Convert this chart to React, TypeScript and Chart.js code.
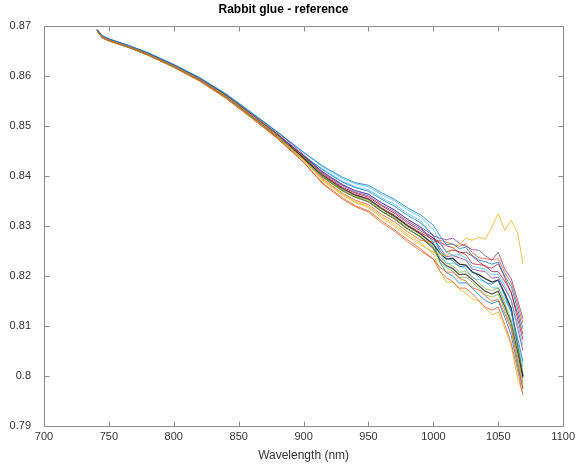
import { useEffect, useRef } from "react";
import { Chart, registerables } from "chart.js";

Chart.register(...registerables);

// Sampling wavelengths (nm)
const wavelength = [741, 745, 750, 765, 780, 800, 820, 840, 860, 880, 900, 915, 930, 940, 950, 960, 970, 980, 990, 1000, 1005, 1010, 1015, 1020, 1025, 1030, 1035, 1040, 1045, 1050, 1055, 1060, 1065, 1069];

// Reflectance spectra, one array per measurement
const s01 = [0.8693, 0.8681, 0.8675, 0.8662, 0.8647, 0.8623, 0.8596, 0.8564, 0.8526, 0.8488, 0.8448, 0.8420, 0.8398, 0.8387, 0.8382, 0.8367, 0.8354, 0.8337, 0.8323, 0.8302, 0.8281, 0.8263, 0.8265, 0.8255, 0.8258, 0.8241, 0.8232, 0.8229, 0.8224, 0.8228, 0.8200, 0.8179, 0.8133, 0.8095];
const s02 = [0.8691, 0.8678, 0.8672, 0.8659, 0.8644, 0.8620, 0.8592, 0.8559, 0.8520, 0.8476, 0.8428, 0.8384, 0.8354, 0.8339, 0.8328, 0.8307, 0.8290, 0.8269, 0.8251, 0.8234, 0.8218, 0.8208, 0.8208, 0.8196, 0.8190, 0.8177, 0.8172, 0.8161, 0.8150, 0.8153, 0.8125, 0.8093, 0.8028, 0.7974];
const s03 = [0.8692, 0.8679, 0.8673, 0.8660, 0.8645, 0.8621, 0.8594, 0.8561, 0.8522, 0.8481, 0.8434, 0.8390, 0.8362, 0.8347, 0.8337, 0.8317, 0.8300, 0.8280, 0.8263, 0.8248, 0.8244, 0.8240, 0.8255, 0.8264, 0.8276, 0.8272, 0.8278, 0.8274, 0.8298, 0.8325, 0.8292, 0.8312, 0.8286, 0.8225];
const s04 = [0.8692, 0.8679, 0.8673, 0.8660, 0.8646, 0.8622, 0.8595, 0.8562, 0.8523, 0.8483, 0.8441, 0.8408, 0.8383, 0.8371, 0.8364, 0.8347, 0.8333, 0.8314, 0.8299, 0.8281, 0.8276, 0.8273, 0.8276, 0.8266, 0.8260, 0.8253, 0.8252, 0.8241, 0.8232, 0.8248, 0.8214, 0.8195, 0.8151, 0.8115];
const s05 = [0.8691, 0.8677, 0.8671, 0.8658, 0.8643, 0.8619, 0.8592, 0.8558, 0.8518, 0.8478, 0.8433, 0.8398, 0.8371, 0.8358, 0.8349, 0.8330, 0.8315, 0.8295, 0.8279, 0.8260, 0.8238, 0.8227, 0.8220, 0.8208, 0.8209, 0.8200, 0.8187, 0.8175, 0.8171, 0.8177, 0.8146, 0.8112, 0.8056, 0.8007];
const s06 = [0.8694, 0.8681, 0.8675, 0.8662, 0.8648, 0.8624, 0.8598, 0.8566, 0.8528, 0.8489, 0.8448, 0.8418, 0.8395, 0.8385, 0.8379, 0.8363, 0.8351, 0.8333, 0.8319, 0.8293, 0.8271, 0.8248, 0.8242, 0.8243, 0.8237, 0.8219, 0.8217, 0.8214, 0.8203, 0.8204, 0.8182, 0.8151, 0.8104, 0.8062];
const s07 = [0.8693, 0.8680, 0.8674, 0.8661, 0.8646, 0.8622, 0.8596, 0.8563, 0.8524, 0.8485, 0.8441, 0.8404, 0.8378, 0.8366, 0.8358, 0.8341, 0.8326, 0.8307, 0.8291, 0.8276, 0.8268, 0.8261, 0.8257, 0.8246, 0.8248, 0.8240, 0.8229, 0.8219, 0.8216, 0.8225, 0.8197, 0.8167, 0.8123, 0.8084];
const s08 = [0.8692, 0.8678, 0.8673, 0.8659, 0.8644, 0.8620, 0.8593, 0.8560, 0.8521, 0.8482, 0.8441, 0.8412, 0.8388, 0.8377, 0.8370, 0.8354, 0.8340, 0.8322, 0.8307, 0.8281, 0.8252, 0.8236, 0.8231, 0.8219, 0.8220, 0.8210, 0.8199, 0.8187, 0.8184, 0.8192, 0.8161, 0.8128, 0.8075, 0.8029];
const s09 = [0.8690, 0.8677, 0.8671, 0.8658, 0.8642, 0.8618, 0.8590, 0.8556, 0.8516, 0.8475, 0.8428, 0.8386, 0.8357, 0.8341, 0.8331, 0.8311, 0.8293, 0.8273, 0.8255, 0.8234, 0.8209, 0.8197, 0.8189, 0.8176, 0.8176, 0.8165, 0.8151, 0.8138, 0.8132, 0.8138, 0.8103, 0.8066, 0.8010, 0.7962];
const s10 = [0.8690, 0.8677, 0.8671, 0.8658, 0.8643, 0.8618, 0.8591, 0.8557, 0.8517, 0.8476, 0.8431, 0.8392, 0.8364, 0.8349, 0.8340, 0.8320, 0.8304, 0.8284, 0.8267, 0.8244, 0.8212, 0.8188, 0.8188, 0.8174, 0.8166, 0.8154, 0.8150, 0.8136, 0.8122, 0.8128, 0.8096, 0.8060, 0.7995, 0.7965];
const s11 = [0.8694, 0.8681, 0.8675, 0.8662, 0.8647, 0.8624, 0.8597, 0.8565, 0.8527, 0.8488, 0.8444, 0.8406, 0.8381, 0.8368, 0.8361, 0.8343, 0.8329, 0.8310, 0.8295, 0.8276, 0.8257, 0.8239, 0.8241, 0.8237, 0.8232, 0.8214, 0.8211, 0.8209, 0.8196, 0.8198, 0.8175, 0.8152, 0.8095, 0.8051];
const s12 = [0.8693, 0.8680, 0.8674, 0.8661, 0.8646, 0.8622, 0.8596, 0.8563, 0.8524, 0.8484, 0.8439, 0.8400, 0.8374, 0.8360, 0.8352, 0.8334, 0.8318, 0.8299, 0.8283, 0.8255, 0.8228, 0.8217, 0.8210, 0.8197, 0.8198, 0.8188, 0.8175, 0.8163, 0.8158, 0.8164, 0.8132, 0.8097, 0.8037, 0.7985];
const s13 = [0.8691, 0.8678, 0.8672, 0.8659, 0.8644, 0.8620, 0.8592, 0.8559, 0.8520, 0.8482, 0.8441, 0.8414, 0.8390, 0.8379, 0.8373, 0.8357, 0.8344, 0.8326, 0.8311, 0.8281, 0.8247, 0.8225, 0.8226, 0.8221, 0.8215, 0.8196, 0.8193, 0.8190, 0.8177, 0.8176, 0.8154, 0.8128, 0.8066, 0.8018];
const s14 = [0.8692, 0.8679, 0.8673, 0.8660, 0.8645, 0.8621, 0.8594, 0.8561, 0.8522, 0.8482, 0.8438, 0.8402, 0.8376, 0.8363, 0.8355, 0.8337, 0.8322, 0.8303, 0.8287, 0.8273, 0.8266, 0.8249, 0.8252, 0.8249, 0.8243, 0.8225, 0.8223, 0.8221, 0.8209, 0.8209, 0.8190, 0.8167, 0.8114, 0.8073];
const s15 = [0.8692, 0.8679, 0.8674, 0.8660, 0.8646, 0.8622, 0.8595, 0.8562, 0.8523, 0.8483, 0.8440, 0.8408, 0.8383, 0.8371, 0.8364, 0.8347, 0.8332, 0.8314, 0.8298, 0.8268, 0.8227, 0.8207, 0.8200, 0.8186, 0.8187, 0.8176, 0.8163, 0.8151, 0.8145, 0.8150, 0.8118, 0.8081, 0.8019, 0.7975];
const s16 = [0.8691, 0.8677, 0.8671, 0.8658, 0.8643, 0.8619, 0.8592, 0.8558, 0.8518, 0.8478, 0.8433, 0.8394, 0.8366, 0.8352, 0.8343, 0.8324, 0.8309, 0.8289, 0.8272, 0.8268, 0.8272, 0.8268, 0.8263, 0.8260, 0.8264, 0.8247, 0.8237, 0.8235, 0.8233, 0.8235, 0.8207, 0.8187, 0.8142, 0.8106];
const s17 = [0.8692, 0.8678, 0.8672, 0.8659, 0.8645, 0.8620, 0.8593, 0.8560, 0.8521, 0.8481, 0.8437, 0.8401, 0.8375, 0.8362, 0.8354, 0.8335, 0.8320, 0.8301, 0.8285, 0.8264, 0.8246, 0.8234, 0.8236, 0.8224, 0.8222, 0.8208, 0.8203, 0.8195, 0.8188, 0.8192, 0.8165, 0.8136, 0.8060, 0.8000];
const s18 = [0.8692, 0.8678, 0.8672, 0.8659, 0.8644, 0.8620, 0.8593, 0.8560, 0.8521, 0.8481, 0.8436, 0.8398, 0.8371, 0.8358, 0.8349, 0.8330, 0.8315, 0.8295, 0.8279, 0.8256, 0.8233, 0.8221, 0.8215, 0.8203, 0.8204, 0.8193, 0.8181, 0.8170, 0.8164, 0.8170, 0.8139, 0.8106, 0.8047, 0.7996];

const spectra = [s01, s02, s03, s04, s05, s06, s07, s08, s09, s10, s11, s12, s13, s14, s15, s16, s17, s18];

// MATLAB-style colour order, plus two dark traces
const lineColors = [
  "rgba(0,114,189,0.75)", "rgba(217,83,25,0.75)", "rgba(237,177,32,0.8)", "rgba(126,47,142,0.75)",
  "rgba(119,172,48,0.75)", "rgba(77,190,238,0.8)", "rgba(162,20,47,0.75)",
  "rgba(0,114,189,0.75)", "rgba(217,83,25,0.75)", "rgba(237,177,32,0.8)", "rgba(126,47,142,0.75)",
  "rgba(119,172,48,0.75)", "rgba(77,190,238,0.8)", "rgba(162,20,47,0.75)",
  "rgba(0,114,189,0.75)", "rgba(217,83,25,0.75)", "rgba(20,20,20,0.85)", "rgba(50,50,50,0.8)",
];

const xTickValues = [700, 750, 800, 850, 900, 950, 1000, 1050, 1100];
const yTickValues = [0.79, 0.8, 0.81, 0.82, 0.83, 0.84, 0.85, 0.86, 0.87];

const chartTitle = "Rabbit glue - reference";
const xAxisTitle = "Wavelength (nm)";

const FONT = "'Liberation Sans', Arial, Helvetica, sans-serif";
const TEXT = "#333333";
const AXIS = "#8c8c8c";

// Box around the plot area with inward-pointing ticks on all four sides
const boxPlugin = {
  id: "boxTicks",
  afterDraw(chart: any) {
    const { ctx, chartArea } = chart;
    const { left, right, top, bottom } = chartArea;
    const xs = chart.scales.x;
    const ys = chart.scales.y;
    const len = 5;
    ctx.save();
    ctx.strokeStyle = AXIS;
    ctx.lineWidth = 1;
    const L = Math.round(left) + 0.5;
    const R = Math.round(right) + 0.5;
    const T = Math.round(top) + 0.5;
    const B = Math.round(bottom) + 0.5;
    ctx.strokeRect(L, T, R - L, B - T);
    ctx.beginPath();
    for (const v of xTickValues) {
      const px = Math.round(xs.getPixelForValue(v)) + 0.5;
      ctx.moveTo(px, B);
      ctx.lineTo(px, B - len);
      ctx.moveTo(px, T);
      ctx.lineTo(px, T + len);
    }
    for (const v of yTickValues) {
      const py = Math.round(ys.getPixelForValue(v)) + 0.5;
      ctx.moveTo(L, py);
      ctx.lineTo(L + len, py);
      ctx.moveTo(R, py);
      ctx.lineTo(R - len, py);
    }
    ctx.stroke();
    ctx.restore();
  },
};

export default function App() {
  const canvasRef = useRef<HTMLCanvasElement>(null);

  useEffect(() => {
    const canvas = canvasRef.current;
    if (!canvas) return;
    const chart = new Chart(canvas, {
      type: "line",
      data: {
        datasets: spectra.map((series, i) => ({
          data: wavelength.map((x, j) => ({ x, y: series[j] })),
          borderColor: lineColors[i],
          borderWidth: i >= 16 ? 1.3 : 1,
          pointRadius: 0,
          fill: false,
          tension: 0,
        })),
      },
      options: {
        responsive: false,
        devicePixelRatio: 1,
        animation: false,
        events: [],
        layout: { padding: { left: 0, right: 12, top: 0, bottom: 0 } },
        plugins: {
          legend: { display: false },
          tooltip: { enabled: false },
          title: {
            display: true,
            text: chartTitle,
            color: "#000000",
            font: { family: FONT, size: 12, weight: "bold" },
            padding: { top: 2, bottom: 10 },
          },
        },
        scales: {
          x: {
            type: "linear",
            min: 700,
            max: 1100,
            grid: { display: false, drawTicks: false },
            border: { display: false },
            afterBuildTicks: (scale: any) => {
              scale.ticks = xTickValues.map((value) => ({ value }));
            },
            afterFit: (scale: any) => {
              scale.height = 38;
            },
            ticks: {
              color: TEXT,
              font: { family: FONT, size: 11 },
              padding: 4,
              maxRotation: 0,
              autoSkip: false,
              callback: (v: any) => String(v),
            },
            title: {
              display: true,
              text: xAxisTitle,
              color: TEXT,
              font: { family: FONT, size: 12 },
              padding: { top: 0, bottom: 1 },
            },
          },
          y: {
            type: "linear",
            min: 0.79,
            max: 0.87,
            grid: { display: false, drawTicks: false },
            border: { display: false },
            afterBuildTicks: (scale: any) => {
              scale.ticks = yTickValues.map((value) => ({ value }));
            },
            afterFit: (scale: any) => {
              scale.width = 44;
            },
            ticks: {
              color: TEXT,
              font: { family: FONT, size: 11 },
              padding: 13,
              autoSkip: false,
              callback: (v: any) => String(Number(Number(v).toFixed(2))),
            },
          },
        },
      },
      plugins: [boxPlugin],
    });
    return () => chart.destroy();
  }, []);

  return (
    <div style={{ position: "absolute", left: 0, top: 0, width: 579, height: 464, background: "#ffffff" }}>
      <canvas ref={canvasRef} width={579} height={464} style={{ display: "block", width: 579, height: 464 }} />
    </div>
  );
}
